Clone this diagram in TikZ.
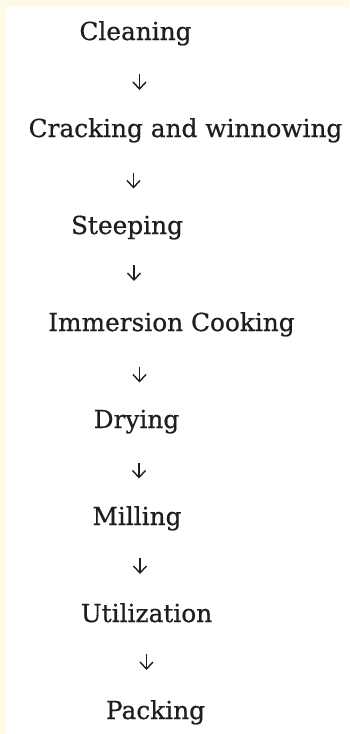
\documentclass[tikz,border=0pt]{standalone}
\usepackage{fontspec}
\setmainfont[FakeBold=0.6]{DejaVu Serif}
\usetikzlibrary{arrows.meta}
\definecolor{cream}{HTML}{FFFAE6}
\definecolor{ink}{HTML}{1E1E1E}
\tikzset{
  stage/.style={anchor=base, inner sep=0pt, text=ink, font=\fontsize{24.8}{28}\selectfont},
  flow/.style={draw=ink, line width=1.4pt, -{Straight Barb[length=7pt,width=13pt,line width=1.4pt]}}
}
\begin{document}
\begin{tikzpicture}[x=1pt,y=-1pt]
  % page: cream frame along the top and left, white sheet
  \fill[cream] (0,0) rectangle (349,734);
  \fill[white] (6,7) rectangle (349,734);
  \useasboundingbox (0,0) rectangle (349,734);

  % process steps
  \node[stage] (s1) at (135.5,40)  {Cleaning};
  \node[stage] (s2) at (185.5,137) {Cracking and winnowing};
  \node[stage] (s3) at (127,234)   {Steeping};
  \node[stage] (s4) at (171.5,331) {Immersion Cooking};
  \node[stage] (s5) at (136.5,428) {Drying};
  \node[stage] (s6) at (137,525)   {Milling};
  \node[stage] (s7) at (146.5,622) {Utilization};
  \node[stage] (s8) at (155.5,719) {Packing};

  % short downward arrows between the steps
  \foreach \i/\x/\y in {1/139.5/82, 2/133.5/180.5, 3/134/273, 4/139.5/374.5,
                        5/139/470.5, 6/140/566, 7/146.5/662} {
    \coordinate (a\i t) at (\x,\y-8);
    \coordinate (a\i b) at (\x,\y+8);
    \draw[flow] (a\i t) -- (a\i b);
  }
\end{tikzpicture}
\end{document}
